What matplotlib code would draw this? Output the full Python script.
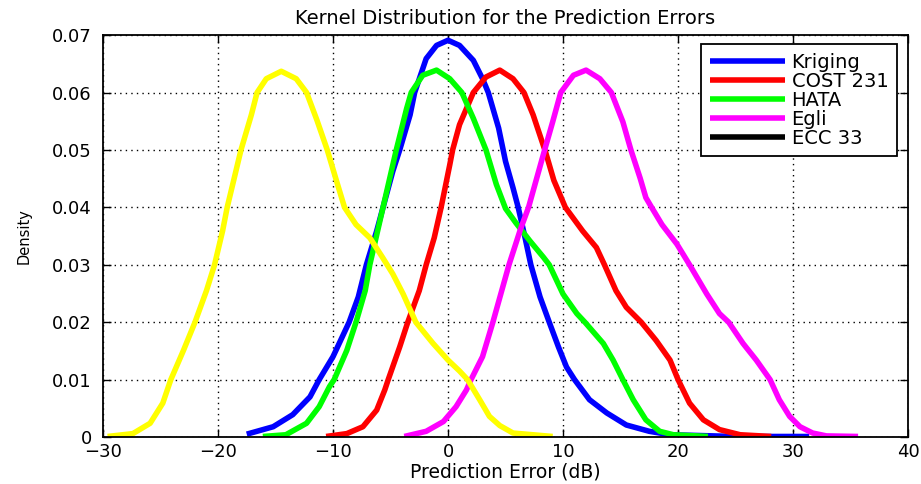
import matplotlib
matplotlib.use("Agg")
import matplotlib.pyplot as plt

# ---- data ----
kriging_x = [-17.5, -15.2, -13.5, -12.0, -11.2, -10.0, -8.6, -7.8, -7.1, -6.2, -5.65, -4.8, -4.2, -3.3, -2.9,
             -1.9, -1.0, 0.0, 1.0, 2.2, 3.0, 3.5, 4.4, 5.0, 5.65, 6.1, 6.7, 7.2, 8.0, 8.8, 9.6, 10.3, 11.0,
             12.3, 13.8, 15.5, 17.5, 19.3, 25.0, 31.4]
kriging_y = [0.0005, 0.0018, 0.0039, 0.0070, 0.0100, 0.0140, 0.0200, 0.0244, 0.0300, 0.0359, 0.0400, 0.0463,
             0.0500, 0.0561, 0.0600, 0.0659, 0.0682, 0.0691, 0.0682, 0.0656, 0.0624, 0.0600, 0.0538, 0.0480,
             0.0434, 0.0400, 0.0347, 0.0300, 0.0244, 0.0200, 0.0157, 0.0122, 0.0100, 0.0065, 0.0042, 0.0021,
             0.0010, 0.0004, 0.0001, 0.0001]

cost_x = [-10.6, -8.8, -7.4, -6.2, -5.5, -5.2, -4.2, -3.5, -2.5, -1.9, -1.2, -0.6, 0.15, 0.4, 1.0, 1.6, 2.2,
          3.3, 4.5, 5.65, 6.6, 7.4, 8.0, 8.5, 9.2, 10.2, 11.7, 12.9, 13.6, 14.6, 15.5, 16.8, 18.1, 19.3, 20.0,
          21.0, 22.2, 23.6, 25.4, 28.1]
cost_y = [0.0001, 0.0006, 0.0018, 0.0047, 0.0082, 0.0100, 0.0157, 0.0200, 0.0255, 0.0300, 0.0347, 0.0400,
          0.0474, 0.0500, 0.0544, 0.0572, 0.0600, 0.0627, 0.0639, 0.0624, 0.0600, 0.0561, 0.0525, 0.0495,
          0.0447, 0.0400, 0.0359, 0.0330, 0.0300, 0.0255, 0.0226, 0.0200, 0.0168, 0.0134, 0.0100, 0.0059,
          0.0030, 0.0013, 0.0004, 0.0001]

hata_x = [-16.1, -14.1, -12.3, -11.2, -10.3, -9.9, -8.8, -8.0, -7.2, -6.8, -5.65, -4.8, -4.5, -3.6, -3.2,
          -2.2, -1.0, 0.15, 1.2, 2.2, 3.0, 3.3, 4.2, 5.0, 5.9, 7.1, 8.3, 8.8, 10.0, 11.2, 11.9, 13.5, 14.35,
          15.2, 16.1, 17.2, 18.4, 19.6, 22.6]
hata_y = [0.0001, 0.0004, 0.0024, 0.0053, 0.0088, 0.0100, 0.0151, 0.0200, 0.0255, 0.0300, 0.0400, 0.0474,
          0.0500, 0.0572, 0.0600, 0.0630, 0.0639, 0.0624, 0.0600, 0.0555, 0.0515, 0.0500, 0.0440, 0.0398,
          0.0373, 0.0342, 0.0313, 0.0300, 0.0249, 0.0215, 0.0200, 0.0163, 0.0134, 0.0100, 0.0065, 0.0030,
          0.0010, 0.0004, 0.0001]

egli_x = [-3.8, -1.9, -0.4, 0.7, 1.6, 2.0, 3.0, 3.9, 5.3, 6.3, 7.0, 8.4, 9.1, 9.8, 10.9, 12.0, 13.2,
          14.2, 15.2, 15.9, 16.7, 17.2, 17.7, 18.6, 19.9, 21.0, 22.5, 23.6, 24.4, 25.65, 26.8, 28.0, 28.8,
          29.7, 30.6, 31.7, 32.9, 35.65]
egli_y = [0.0001, 0.0010, 0.0027, 0.0053, 0.0082, 0.0100, 0.0140, 0.0200, 0.0300, 0.0362, 0.0400,
          0.0500, 0.0549, 0.0600, 0.0630, 0.0639, 0.0624, 0.0600, 0.0549, 0.0500, 0.0451, 0.0417, 0.0400,
          0.0370, 0.0336, 0.0300, 0.0249, 0.0215, 0.0200, 0.0163, 0.0134, 0.0100, 0.0065, 0.0036, 0.0018,
          0.0007, 0.0002, 0.0001]

ecc_x = [-29.6, -27.4, -25.9, -24.8, -24.1, -23.0, -22.0, -21.0, -20.3, -19.6, -19.2, -18.6, -18.0, -17.1,
         -16.6, -15.8, -14.5, -13.2, -12.3, -11.4, -10.5, -9.8, -9.0, -8.0, -6.8, -5.7, -4.8, -3.9, -2.8,
         -1.3, 0.0, 1.0, 1.7, 2.75, 3.6, 4.5, 5.65, 9.1]
ecc_y = [0.0001, 0.0006, 0.0024, 0.0059, 0.0100, 0.0151, 0.0200, 0.0255, 0.0300, 0.0359, 0.0400, 0.0450,
         0.0500, 0.0561, 0.0600, 0.0624, 0.0637, 0.0624, 0.0600, 0.0552, 0.0500, 0.0453, 0.0400, 0.0370,
         0.0347, 0.0313, 0.0284, 0.0249, 0.0200, 0.0163, 0.0134, 0.0115, 0.0100, 0.0065, 0.0036, 0.0020,
         0.0007, 0.0001]

series_labels = ["Kriging", "COST 231", "HATA", "Egli", "ECC 33"]
x_ticks = [-30, -20, -10, 0, 10, 20, 30, 40]
y_ticks = [0, 0.01, 0.02, 0.03, 0.04, 0.05, 0.06, 0.07]
y_tick_labels = ["0", "0.01", "0.02", "0.03", "0.04", "0.05", "0.06", "0.07"]

# ---- figure ----
plt.rcParams["font.family"] = ["DejaVu Sans"]
fig = plt.figure(figsize=(9.21, 4.84), dpi=100)
ax = fig.add_axes([0.1118, 0.097, 0.8742, 0.8305])

lw = 4.0
kw = dict(lw=lw, solid_joinstyle="round", solid_capstyle="butt")
ax.plot(kriging_x, kriging_y, color="#0000ff", label=series_labels[0], **kw)
ax.plot(cost_x, cost_y, color="#ff0000", label=series_labels[1], **kw)
ax.plot(hata_x, hata_y, color="#00ff00", label=series_labels[2], **kw)
ax.plot(egli_x, egli_y, color="#ff00ff", label=series_labels[3], **kw)
ax.plot(ecc_x, ecc_y, color="#ffff00", label=series_labels[4], **kw)

ax.set_xlim(-30, 40)
ax.set_ylim(0, 0.07)
ax.set_xticks(x_ticks)
ax.set_yticks(y_ticks)
ax.set_yticklabels(y_tick_labels)

ax.grid(True, color="black", linestyle=(0, (1, 3)), lw=1.0)
ax.set_axisbelow(True)
for s in ax.spines.values():
    s.set_linewidth(1.3)
    s.set_color("black")
ax.tick_params(direction="in", top=True, right=True, length=6, width=1.0,
               labelsize=13, colors="black")
ax.tick_params(axis="y", pad=8)
ax.tick_params(axis="x", pad=4.5)

ax.set_title("Kernel Distribution for the Prediction Errors", fontsize=14, pad=8)
ax.set_xlabel("Prediction Error (dB)", fontsize=13.5, labelpad=1)
ax.set_ylabel("Density", fontsize=10.5)
ax.yaxis.set_label_coords(-0.088, 0.5)

leg = ax.legend(loc="upper right", bbox_to_anchor=(0.9863, 0.978), borderaxespad=0.0,
                fontsize=14, frameon=True, fancybox=False, edgecolor="black", framealpha=1.0,
                handlelength=3.86, handletextpad=0.36, labelspacing=0.0, borderpad=0.45)
leg.get_frame().set_linewidth(1.3)
leg.legend_handles[4].set_color("black")

fig.savefig("out.png", dpi=100)
